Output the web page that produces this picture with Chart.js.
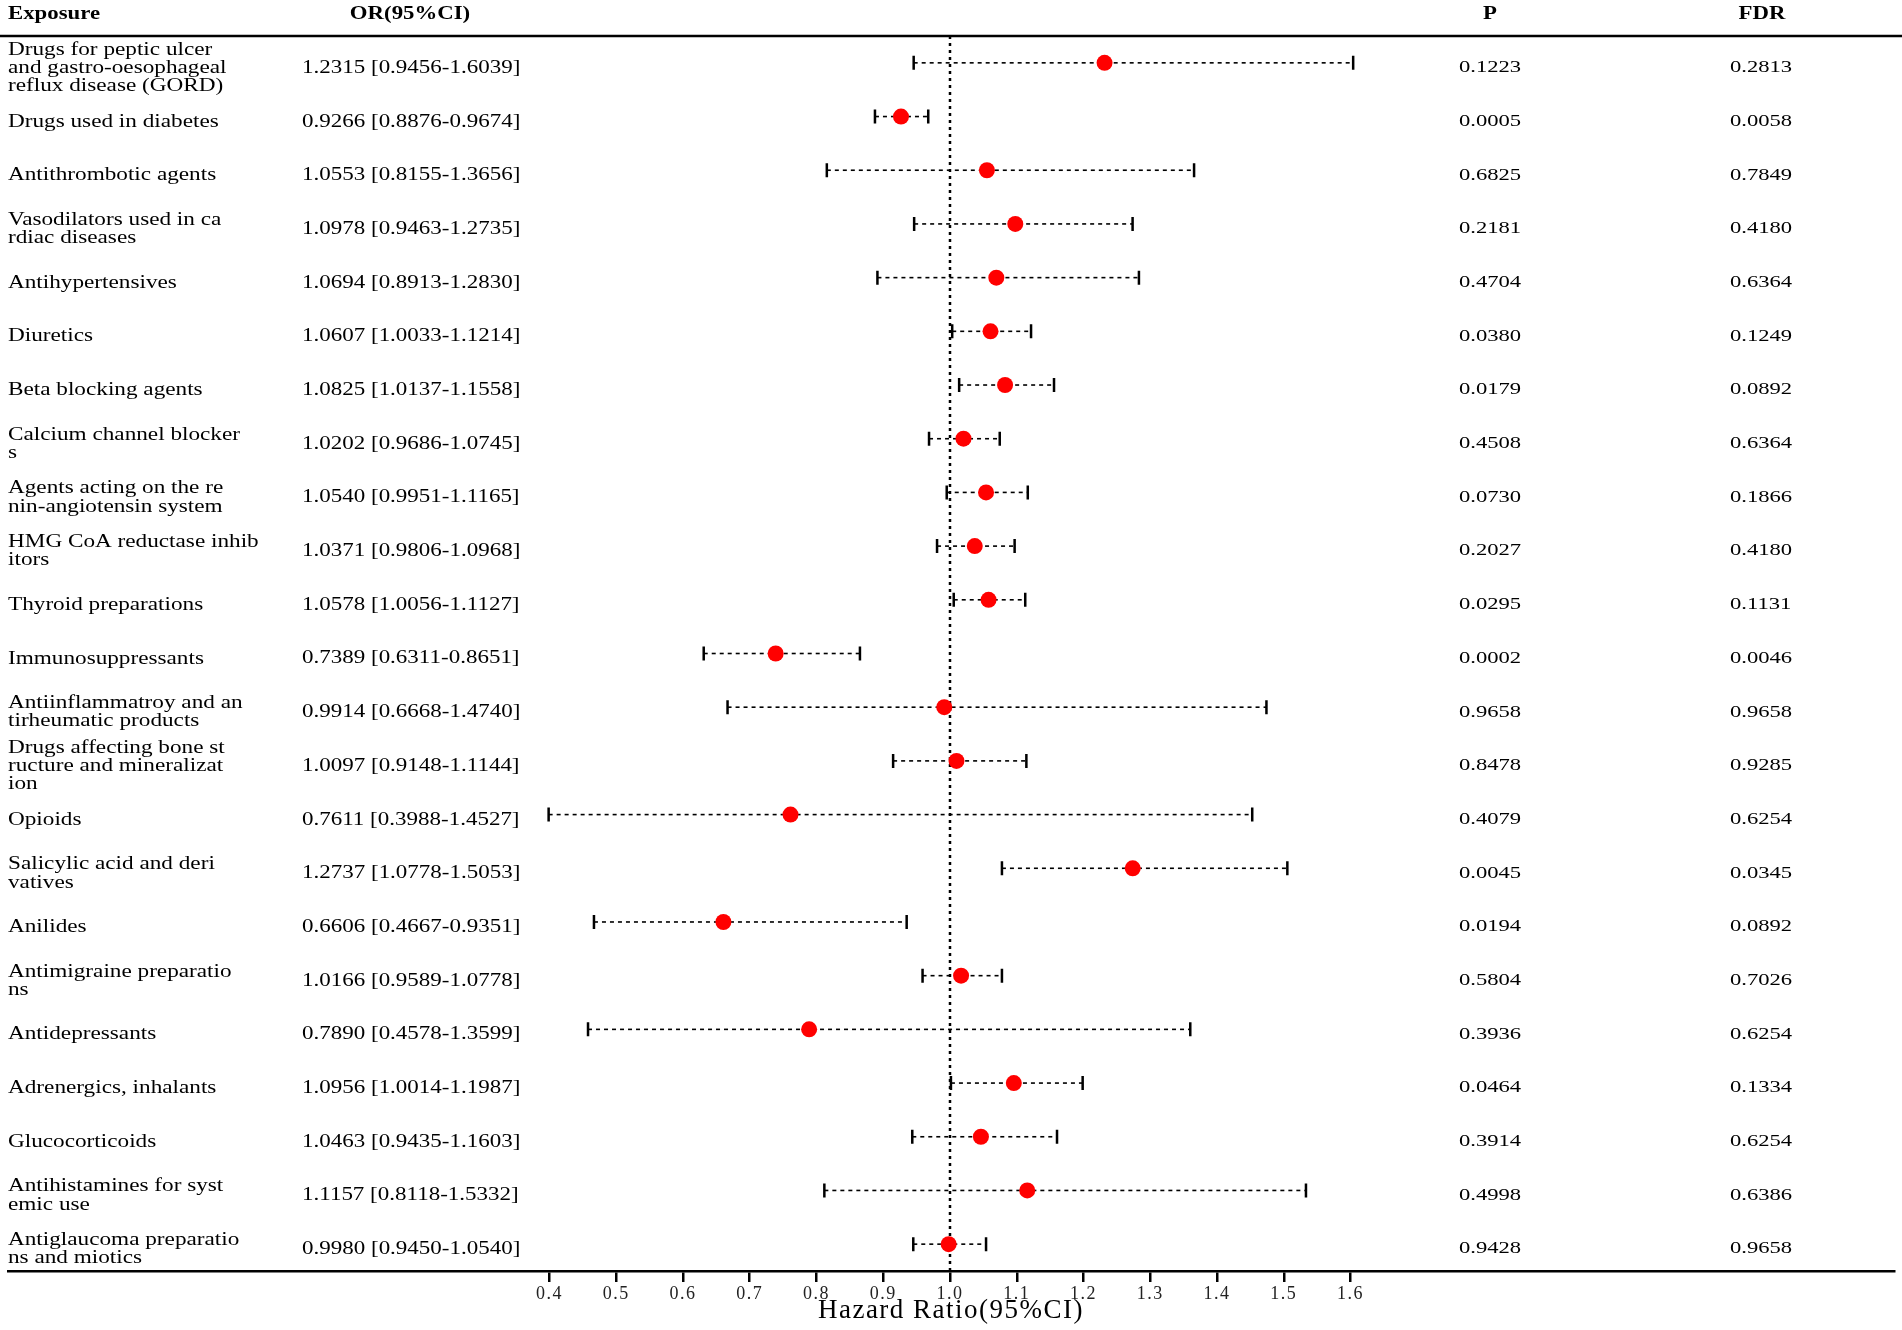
<!DOCTYPE html>
<html>
<head>
<meta charset="utf-8">
<script src="https://cdn.jsdelivr.net/npm/chart.js@4.4.1/dist/chart.umd.min.js"></script>
<style>
  html, body { margin: 0; padding: 0; background: #fff; }
  #wrap { width: 1902px; height: 1330px; position: relative; }
</style>
</head>
<body>
<div id="wrap"><canvas id="forest"></canvas></div>
<script>
// forest plot: drug exposures vs hazard ratio

var exposures = [
    ["Drugs for peptic ulcer", "and gastro-oesophageal", "reflux disease (GORD)"],
    ["Drugs used in diabetes"],
    ["Antithrombotic agents"],
    ["Vasodilators used in ca", "rdiac diseases"],
    ["Antihypertensives"],
    ["Diuretics"],
    ["Beta blocking agents"],
    ["Calcium channel blocker", "s"],
    ["Agents acting on the re", "nin-angiotensin system"],
    ["HMG CoA reductase inhib", "itors"],
    ["Thyroid preparations"],
    ["Immunosuppressants"],
    ["Antiinflammatroy and an", "tirheumatic products"],
    ["Drugs affecting bone st", "ructure and mineralizat", "ion"],
    ["Opioids"],
    ["Salicylic acid and deri", "vatives"],
    ["Anilides"],
    ["Antimigraine preparatio", "ns"],
    ["Antidepressants"],
    ["Adrenergics, inhalants"],
    ["Glucocorticoids"],
    ["Antihistamines for syst", "emic use"],
    ["Antiglaucoma preparatio", "ns and miotics"]
];

var orValues = [1.2315, 0.9266, 1.0553, 1.0978, 1.0694, 1.0607, 1.0825, 1.0202, 1.0540, 1.0371, 1.0578, 0.7389,
                0.9914, 1.0097, 0.7611, 1.2737, 0.6606, 1.0166, 0.7890, 1.0956, 1.0463, 1.1157, 0.9980];
var ciLower = [0.9456, 0.8876, 0.8155, 0.9463, 0.8913, 1.0033, 1.0137, 0.9686, 0.9951, 0.9806, 1.0056, 0.6311,
               0.6668, 0.9148, 0.3988, 1.0778, 0.4667, 0.9589, 0.4578, 1.0014, 0.9435, 0.8118, 0.9450];
var ciUpper = [1.6039, 0.9674, 1.3656, 1.2735, 1.2830, 1.1214, 1.1558, 1.0745, 1.1165, 1.0968, 1.1127, 0.8651,
               1.4740, 1.1144, 1.4527, 1.5053, 0.9351, 1.0778, 1.3599, 1.1987, 1.1603, 1.5332, 1.0540];
var pValues = ["0.1223", "0.0005", "0.6825", "0.2181", "0.4704", "0.0380", "0.0179", "0.4508", "0.0730", "0.2027",
               "0.0295", "0.0002", "0.9658", "0.8478", "0.4079", "0.0045", "0.0194", "0.5804", "0.3936", "0.0464",
               "0.3914", "0.4998", "0.9428"];
var fdrValues = ["0.2813", "0.0058", "0.7849", "0.4180", "0.6364", "0.1249", "0.0892", "0.6364", "0.1866", "0.4180",
                 "0.1131", "0.0046", "0.9658", "0.9285", "0.6254", "0.0345", "0.0892", "0.7026", "0.6254", "0.1334",
                 "0.6254", "0.6386", "0.9658"];
var xTicks = [0.4, 0.5, 0.6, 0.7, 0.8, 0.9, 1.0, 1.1, 1.2, 1.3, 1.4, 1.5, 1.6];
var refValue = 1.0;

var FONT = '"Liberation Serif", "Times New Roman", serif';

// draw text squeezed/stretched horizontally like the source figure
function putText(ctx, str, x, y, size, sx, bold, align) {
    ctx.save();
    ctx.letterSpacing = "0px";
    ctx.font = (bold ? "bold " : "") + size + "px " + FONT;
    ctx.translate(x, y);
    ctx.scale(sx, 1);
    ctx.textAlign = align || "left";
    ctx.textBaseline = "middle";
    ctx.fillStyle = "#000";
    ctx.fillText(str, 0, 0);
    ctx.restore();
}

var tickSpacing = {
    id: "tickSpacing",
    beforeDraw: function(chart) {
        chart.ctx.letterSpacing = "1.5px";
    },
    afterDraw: function(chart) {
        chart.ctx.letterSpacing = "0px";
    }
};

// dotted reference line + dashed CI whiskers with caps
var ciBars = {
    id: "ciBars",
    beforeDatasetsDraw: function(chart) {
        var ctx = chart.ctx;
        var xs = chart.scales.x, ys = chart.scales.y;
        var area = chart.chartArea;
        ctx.save();
        ctx.strokeStyle = "#000";

        var rx = xs.getPixelForValue(refValue);
        ctx.lineWidth = 2.5;
        ctx.setLineDash([3, 4]);
        ctx.beginPath();
        ctx.moveTo(rx, area.top);
        ctx.lineTo(rx, area.bottom);
        ctx.stroke();

        for (var i = 0; i < orValues.length; i++) {
            var y = ys.getPixelForValue(i + 1);
            var x1 = xs.getPixelForValue(ciLower[i]);
            var x2 = xs.getPixelForValue(ciUpper[i]);
            ctx.lineWidth = 1.6;
            ctx.setLineDash([4, 4]);
            ctx.beginPath();
            ctx.moveTo(x1, y);
            ctx.lineTo(x2, y);
            ctx.stroke();
            ctx.setLineDash([]);
            ctx.lineWidth = 2.5;
            ctx.beginPath();
            ctx.moveTo(x1, y - 7);
            ctx.lineTo(x1, y + 7);
            ctx.moveTo(x2, y - 7);
            ctx.lineTo(x2, y + 7);
            ctx.stroke();
        }
        ctx.restore();
    }
};

// table columns: exposure, OR(95%CI), P, FDR
var tableText = {
    id: "tableText",
    afterDraw: function(chart) {
        var ctx = chart.ctx;
        var ys = chart.scales.y;
        var area = chart.chartArea;

        ctx.save();
        ctx.strokeStyle = "#000";
        ctx.lineWidth = 2.5;
        ctx.beginPath();
        ctx.moveTo(0, area.top);
        ctx.lineTo(chart.width, area.top);
        ctx.stroke();
        ctx.restore();

        putText(ctx, "Exposure", 8, 14, 19, 1.2, true, "left");
        putText(ctx, "OR(95%CI)", 410, 14, 19, 1.2, true, "center");
        putText(ctx, "P", 1490, 14, 19, 1.2, true, "center");
        putText(ctx, "FDR", 1762, 14, 19, 1.2, true, "center");

        for (var i = 0; i < exposures.length; i++) {
            var y = ys.getPixelForValue(i + 1) + 5;
            var lines = exposures[i];
            for (var j = 0; j < lines.length; j++) {
                var ly = y + (j - (lines.length - 1) / 2) * 18.3;
                putText(ctx, lines[j], 8, ly, 19.5, 1.19, false, "left");
            }
            var orText = orValues[i].toFixed(4) + " [" + ciLower[i].toFixed(4) + "-" + ciUpper[i].toFixed(4) + "]";
            putText(ctx, orText, 302, y, 19, 1.21, false, "left");
            putText(ctx, pValues[i], 1459, y, 16.5, 1.37, false, "left");
            putText(ctx, fdrValues[i], 1730, y, 16.5, 1.37, false, "left");
        }
    }
};

var points = orValues.map(function(v, i) {
    return {x: v, y: i + 1};
});

var forestChart = new Chart(document.getElementById("forest"), {
    type: "scatter",
    data: {
        datasets: [{
            data: points,
            pointRadius: 8,
            pointHoverRadius: 8,
            pointBackgroundColor: "#ff0000",
            pointBorderWidth: 0,
            borderColor: "#ff0000"
        }]
    },
    options: {
        responsive: true,
        maintainAspectRatio: false,
        animation: false,
        layout: {
            padding: {top: 36, left: 0, right: 0, bottom: 0}
        },
        plugins: {
            legend: {display: false},
            tooltip: {enabled: false}
        },
        scales: {
            x: {
                type: "linear",
                min: -0.411,
                max: 2.414,
                afterBuildTicks: function(scale) {
                    scale.ticks = xTicks.map(function(v) { return {value: v}; });
                },
                afterFit: function(scale) {
                    scale.height = 59;
                },
                grid: {
                    drawOnChartArea: false,
                    drawTicks: true,
                    tickLength: 11,
                    color: "#000",
                    lineWidth: 2.5
                },
                border: {display: true, color: "#000", width: 2.5},
                ticks: {
                    color: "#222",
                    padding: 1,
                    maxRotation: 0,
                    autoSkip: false,
                    font: {family: FONT, size: 18},
                    callback: function(v) { return Number(v).toFixed(1); }
                },
                title: {
                    display: true,
                    text: "Hazard Ratio(95%CI)",
                    color: "#000",
                    font: {family: FONT, size: 27},
                    padding: {top: 0, bottom: 3}
                }
            },
            y: {
                type: "linear",
                display: false,
                reverse: true,
                min: 0.5,
                max: 23.5
            }
        }
    },
    plugins: [tickSpacing, ciBars, tableText]
});
</script>
</body>
</html>
